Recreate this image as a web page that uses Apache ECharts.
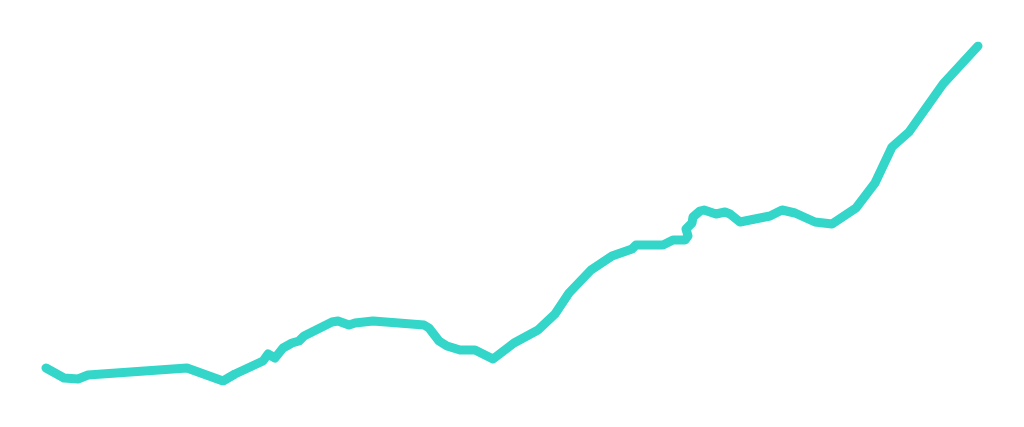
<!DOCTYPE html>
<html>
<head>
<meta charset="utf-8">
<script src="https://cdn.jsdelivr.net/npm/echarts@6/dist/echarts.min.js"></script>
<style>html,body{margin:0;padding:0;background:#fff;}#chart{width:1024px;height:427px;}</style>
</head>
<body>
<div id="chart"></div>
<script>
const xValues = [0,18,32,42,141,177,189,217,222,229,237,246,253,258,286,292,303,309,327,378,383,393,401,414,429,447,468,492,509,523,545,566,586,590,617,627,639,642,640,646,647,654,658,670,679,684,694,724,736,749,769,786,810,829,846,863,897,932];
const yValues = [13,3,2,6,13,0,7,20,27,23,33,38,40,45,59,60,56,58,60,56,53,40,35,31,31,22,38,51,67,88,111,125,132,136,136,141,141,145,152,158,164,170,171,167,169,167,159,165,171,168,159,157,173,198,234,249,297,335];
const seriesData = xValues.map((x, i) => [x, yValues[i]]);
const chart = echarts.init(document.getElementById('chart'));
chart.setOption({
  animation: false,
  grid: { left: 46, right: 46, top: 46, bottom: 46 },
  xAxis: { type: 'value', min: 0, max: 932, show: false },
  yAxis: { type: 'value', min: 0, max: 335, show: false },
  series: [{
    type: 'line',
    data: seriesData,
    showSymbol: false,
    lineStyle: { color: '#33d6c8', width: 9, cap: 'round', join: 'round' }
  }]
});
</script>
</body>
</html>
